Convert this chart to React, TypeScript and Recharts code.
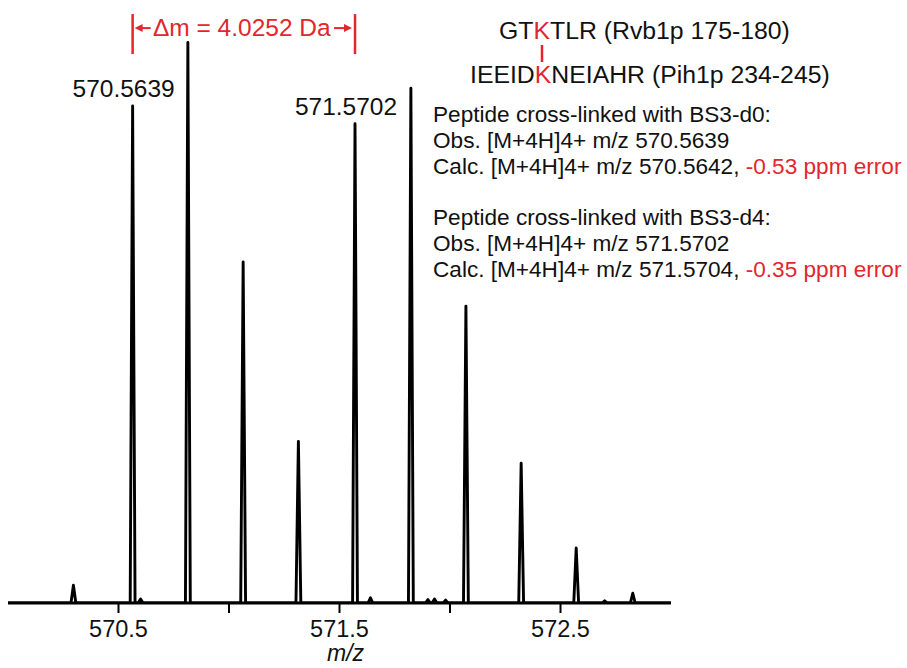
import React from 'react';
import { LineChart, Line, XAxis, YAxis, ReferenceLine, ReferenceDot, Label } from 'recharts';

const RED = '#e3262d';
const INK = '#111111';
const FONT = '"Liberation Sans", Arial, Helvetica, sans-serif';

// every feature of the spectrum: centroid m/z and relative intensity
const peakMz = [570.296, 570.5639, 570.600, 570.8139, 571.064, 571.314, 571.5702, 571.640, 571.823, 571.900, 571.930, 571.980, 572.072, 572.322, 572.571, 572.700, 572.827];
const peakIntensity = [3.1, 86.7, 0.7, 97.8, 59.5, 28.2, 83.6, 0.9, 89.8, 0.6, 0.7, 0.5, 51.8, 24.4, 9.6, 0.4, 1.7];

const xTicks = [570.5, 571, 571.5, 572, 572.5];
const labelledPeaks = [570.5639, 571.5702];
const deltaText = 'Δm = 4.0252 Da';
const bracketLevel = 100.3;

const peptideTop = ['GT', 'K', 'TLR (Rvb1p 175-180)'];
const peptideBottom = ['IEEID', 'K', 'NEIAHR (Pih1p 234-245)'];

const infoLines: [string, string][] = [
  ['Peptide cross-linked with BS3-d0:', ''],
  ['Obs. [M+4H]4+ m/z 570.5639', ''],
  ['Calc. [M+4H]4+ m/z 570.5642, ', '-0.53 ppm error'],
  ['', ''],
  ['Peptide cross-linked with BS3-d4:', ''],
  ['Obs. [M+4H]4+ m/z 571.5702', ''],
  ['Calc. [M+4H]4+ m/z 571.5704, ', '-0.35 ppm error'],
];

// profile peaks are drawn as narrow spikes around each centroid
const HALF_WIDTH = 0.011;
const spectrum = [
  { mz: 570, intensity: 0 },
  ...peakMz.flatMap((m, k) => [
    { mz: m - HALF_WIDTH, intensity: 0 },
    { mz: m, intensity: peakIntensity[k] },
    { mz: m + HALF_WIDTH, intensity: 0 },
  ]),
  { mz: 573, intensity: 0 },
];

const MzTick = (props: any) => {
  const { x, y, payload } = props;
  if (payload.value % 1 !== 0.5) return <g />;
  return (
    <text x={x} y={y} dy={22} textAnchor="middle" fontFamily={FONT} fontSize={23.5} fill={INK}>
      {payload.value.toFixed(1)}
    </text>
  );
};

const AxisTitle = (props: any) => {
  const vb = props.viewBox;
  return (
    <text x={vb.x + vb.width / 2 + 6} y={vb.y + 58} textAnchor="middle" fontFamily={FONT} fontSize={23} fontStyle="italic" fill={INK}>
      m/z
    </text>
  );
};

const Bracket = (props: any) => {
  const { x, y, width } = props.viewBox;
  const l = x;
  const r = x + width;
  const mid = (l + r) / 2 - 2;
  return (
    <g stroke={RED} fill={RED}>
      <line x1={l} x2={l} y1={y - 14} y2={y + 26} strokeWidth={2.5} />
      <line x1={r} x2={r} y1={y - 14} y2={y + 26} strokeWidth={2.5} />
      <line x1={l + 6} x2={l + 18} y1={y} y2={y} strokeWidth={2} />
      <polygon points={`${l + 2},${y} ${l + 10},${y - 4} ${l + 10},${y + 4}`} stroke="none" />
      <line x1={r - 21} x2={r - 8} y1={y} y2={y} strokeWidth={2} />
      <polygon points={`${r - 3},${y} ${r - 11},${y - 4} ${r - 11},${y + 4}`} stroke="none" />
      <text x={mid} y={y + 8} textAnchor="middle" fontFamily={FONT} fontSize={24.5} stroke="none">
        {deltaText}
      </text>
    </g>
  );
};

const PeakLabel = (props: any) => {
  const { x, y } = props.viewBox;
  return (
    <text x={x - 9} y={y - 9} textAnchor="middle" fontFamily={FONT} fontSize={24.5} fill={INK}>
      {props.value}
    </text>
  );
};

const Annotations = () => (
  <svg width={907} height={668} style={{ position: 'absolute', left: 0, top: 0, pointerEvents: 'none' }}>
    <g fontFamily={FONT} fill={INK}>
      <text x={499} y={39} fontSize={24.8}>
        <tspan>{peptideTop[0]}</tspan>
        <tspan fill={RED}>{peptideTop[1]}</tspan>
        <tspan>{peptideTop[2]}</tspan>
      </text>
      <line x1={542} x2={542} y1={45} y2={62} stroke={RED} strokeWidth={2.5} />
      <text x={470} y={83} fontSize={24.8}>
        <tspan>{peptideBottom[0]}</tspan>
        <tspan fill={RED}>{peptideBottom[1]}</tspan>
        <tspan>{peptideBottom[2]}</tspan>
      </text>
      {infoLines.map((ln, i) => (
        <text key={i} x={433} y={122 + i * 25.8} fontSize={22.6}>
          <tspan>{ln[0]}</tspan>
          {ln[1] && <tspan fill={RED}>{ln[1]}</tspan>}
        </text>
      ))}
    </g>
  </svg>
);

export default function App() {
  return (
    <div style={{ position: 'relative', width: 907, height: 668, background: '#ffffff' }}>
      <style>{'body{margin:0}'}</style>
      <LineChart width={907} height={668} data={spectrum} margin={{ top: 0, right: 236, bottom: 0, left: 8 }}>
        <XAxis
          dataKey="mz"
          type="number"
          domain={[570, 573]}
          ticks={xTicks}
          allowDataOverflow
          height={65}
          axisLine={{ stroke: '#000', strokeWidth: 3 }}
          tickLine={{ stroke: '#000', strokeWidth: 2 }}
          tickSize={10}
          tick={<MzTick />}
        >
          <Label content={<AxisTitle />} />
        </XAxis>
        <YAxis hide domain={[0, 105.2]} allowDataOverflow />
        <Line
          dataKey="intensity"
          type="linear"
          stroke="#000"
          strokeWidth={2.9}
          strokeLinejoin="round"
          dot={false}
          activeDot={false}
          isAnimationActive={false}
        />
        <ReferenceLine
          segment={[{ x: labelledPeaks[0], y: bracketLevel }, { x: labelledPeaks[1], y: bracketLevel }]}
          stroke="none"
          ifOverflow="visible"
          label={<Bracket />}
        />
        {labelledPeaks.map((m) => (
          <ReferenceDot
            key={m}
            x={m}
            y={peakIntensity[peakMz.indexOf(m)]}
            r={0}
            fill="none"
            stroke="none"
            ifOverflow="visible"
            label={<PeakLabel value={m.toFixed(4)} />}
          />
        ))}
      </LineChart>
      <Annotations />
    </div>
  );
}
